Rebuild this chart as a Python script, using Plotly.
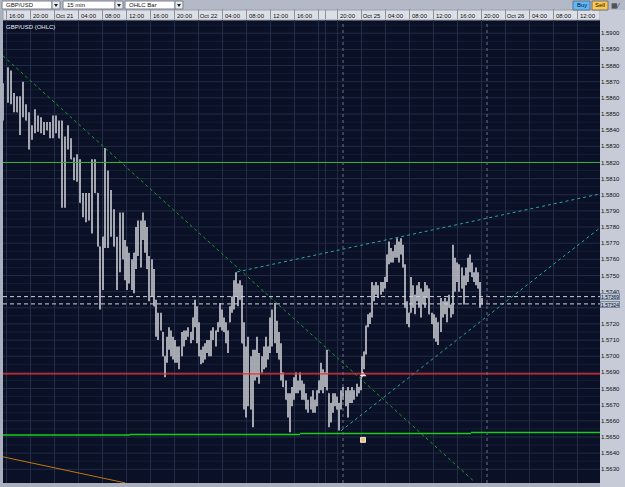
import plotly.graph_objects as go

# ---------------- data ----------------
# bar time: trading minutes since Oct 20 16:00 (weekend removed)
bar_time = [-30, 20, 50, 80, 110, 140, 170, 200, 230, 260, 290, 320, 350, 380, 410, 440, 470, 500, 530, 560,
            590, 620, 650, 680, 710, 740, 770, 800, 830, 860, 890, 920, 940, 970, 990, 1020, 1050, 1080, 1110, 1140,
            1170, 1190, 1210, 1230, 1260, 1280, 1300, 1320, 1350, 1370, 1390, 1410, 1430, 1460, 1480, 1500, 1520, 1550, 1570, 1590,
            1610, 1630, 1650, 1670, 1690, 1710, 1730, 1760, 1780, 1800, 1820, 1850, 1870, 1890, 1910, 1930, 1950, 1970, 1990, 2010,
            2030, 2050, 2070, 2100, 2120, 2140, 2160, 2180, 2200, 2220, 2240, 2260, 2280, 2300, 2320, 2340, 2360, 2380, 2400, 2420,
            2450, 2470, 2490, 2510, 2530, 2560, 2580, 2600, 2620, 2640, 2660, 2690, 2710, 2730, 2750, 2770, 2800, 2820, 2840, 2860,
            2880, 2900, 2920, 2940, 2960, 2980, 3000, 3020, 3050, 3070, 3090, 3110, 3130, 3150, 3170, 3190, 3210, 3230, 3250, 3270,
            3290, 3310, 3330, 3350, 3370, 3400, 3420, 3440, 3460, 3480, 3510, 3530, 3550, 3560, 3580, 3600, 3620, 3640, 3660, 3680,
            3700, 3720, 3750, 3770, 3790, 3810, 3830, 3850, 3870, 3890, 3910, 3930, 3950, 3970, 3990, 4010, 4030, 4050, 4070, 4090,
            4110, 4130, 4150, 4170, 4190, 4210, 4230, 4260, 4280, 4300, 4320, 4350, 4370, 4390, 4410, 4430, 4450, 4470, 4490, 4510,
            4530, 4560, 4580, 4600, 4620, 4640, 4660, 4680, 4700, 4720, 4740, 4760]

bar_high = [1.5869, 1.5879, 1.5877, 1.5863, 1.5861, 1.5861, 1.5870, 1.5856, 1.5851, 1.5843, 1.5853, 1.5849, 1.5848, 1.5845, 1.5845, 1.5845, 1.5849, 1.5849, 1.5846, 1.5846,
            1.5836, 1.5843, 1.5835, 1.5823, 1.5825, 1.5822, 1.5801, 1.5801, 1.5801, 1.5822, 1.5822, 1.5801, 1.5768, 1.5774, 1.5829, 1.5815, 1.5803, 1.5791, 1.5774, 1.5789,
            1.5789, 1.5772, 1.5768, 1.5764, 1.5760, 1.5764, 1.5780, 1.5784, 1.5784, 1.5789, 1.5784, 1.5780, 1.5762, 1.5760, 1.5754, 1.5735, 1.5727, 1.5727, 1.5715, 1.5700,
            1.5712, 1.5718, 1.5716, 1.5712, 1.5710, 1.5706, 1.5706, 1.5715, 1.5716, 1.5716, 1.5718, 1.5715, 1.5724, 1.5735, 1.5731, 1.5721, 1.5704, 1.5706, 1.5708, 1.5710,
            1.5710, 1.5716, 1.5718, 1.5716, 1.5721, 1.5733, 1.5729, 1.5724, 1.5721, 1.5716, 1.5731, 1.5737, 1.5747, 1.5752, 1.5745, 1.5747, 1.5744, 1.5721, 1.5706, 1.5712,
            1.5700, 1.5704, 1.5704, 1.5712, 1.5702, 1.5700, 1.5706, 1.5712, 1.5706, 1.5724, 1.5729, 1.5733, 1.5722, 1.5715, 1.5708, 1.5690, 1.5685, 1.5677, 1.5677, 1.5681,
            1.5687, 1.5690, 1.5685, 1.5690, 1.5685, 1.5683, 1.5677, 1.5673, 1.5675, 1.5679, 1.5673, 1.5679, 1.5685, 1.5696, 1.5692, 1.5690, 1.5704, 1.5677, 1.5671, 1.5677,
            1.5677, 1.5675, 1.5671, 1.5679, 1.5681, 1.5679, 1.5681, 1.5679, 1.5681, 1.5679, 1.5683, 1.5681, 1.5687, 1.5700, 1.5703, 1.5719, 1.5726, 1.5727, 1.5746, 1.5744,
            1.5746, 1.5744, 1.5746, 1.5746, 1.5749, 1.5763, 1.5771, 1.5767, 1.5765, 1.5769, 1.5773, 1.5771, 1.5773, 1.5769, 1.5757, 1.5734, 1.5727, 1.5749, 1.5744, 1.5738,
            1.5744, 1.5746, 1.5742, 1.5740, 1.5746, 1.5744, 1.5742, 1.5727, 1.5726, 1.5724, 1.5721, 1.5736, 1.5734, 1.5736, 1.5734, 1.5738, 1.5732, 1.5769, 1.5761, 1.5758,
            1.5757, 1.5755, 1.5750, 1.5755, 1.5761, 1.5763, 1.5758, 1.5752, 1.5755, 1.5752, 1.5746, 1.5736]

bar_low = [1.5846, 1.5857, 1.5856, 1.5851, 1.5851, 1.5837, 1.5848, 1.5846, 1.5828, 1.5834, 1.5838, 1.5839, 1.5838, 1.5837, 1.5840, 1.5835, 1.5835, 1.5838, 1.5835, 1.5792,
           1.5792, 1.5828, 1.5822, 1.5809, 1.5808, 1.5795, 1.5786, 1.5783, 1.5784, 1.5776, 1.5801, 1.5768, 1.5729, 1.5741, 1.5767, 1.5767, 1.5774, 1.5768, 1.5741, 1.5752,
           1.5760, 1.5747, 1.5741, 1.5745, 1.5741, 1.5739, 1.5754, 1.5762, 1.5755, 1.5772, 1.5764, 1.5754, 1.5734, 1.5737, 1.5731, 1.5712, 1.5710, 1.5716, 1.5700, 1.5687,
           1.5696, 1.5704, 1.5700, 1.5698, 1.5696, 1.5696, 1.5692, 1.5700, 1.5706, 1.5710, 1.5712, 1.5708, 1.5710, 1.5718, 1.5708, 1.5700, 1.5695, 1.5696, 1.5698, 1.5702,
           1.5700, 1.5700, 1.5710, 1.5706, 1.5715, 1.5718, 1.5716, 1.5715, 1.5708, 1.5702, 1.5721, 1.5727, 1.5729, 1.5737, 1.5731, 1.5735, 1.5708, 1.5667, 1.5662, 1.5669,
           1.5667, 1.5656, 1.5685, 1.5687, 1.5683, 1.5690, 1.5692, 1.5693, 1.5698, 1.5702, 1.5706, 1.5708, 1.5702, 1.5698, 1.5685, 1.5681, 1.5673, 1.5662, 1.5653, 1.5669,
           1.5673, 1.5677, 1.5677, 1.5679, 1.5673, 1.5673, 1.5667, 1.5665, 1.5667, 1.5665, 1.5665, 1.5669, 1.5677, 1.5679, 1.5677, 1.5681, 1.5679, 1.5656, 1.5659, 1.5665,
           1.5669, 1.5667, 1.5654, 1.5667, 1.5673, 1.5669, 1.5662, 1.5671, 1.5671, 1.5673, 1.5675, 1.5677, 1.5679, 1.5687, 1.5692, 1.5701, 1.5718, 1.5720, 1.5724, 1.5734,
           1.5738, 1.5736, 1.5738, 1.5740, 1.5742, 1.5746, 1.5757, 1.5758, 1.5758, 1.5761, 1.5761, 1.5758, 1.5763, 1.5755, 1.5730, 1.5720, 1.5718, 1.5727, 1.5730, 1.5726,
           1.5734, 1.5730, 1.5724, 1.5732, 1.5730, 1.5736, 1.5726, 1.5720, 1.5711, 1.5709, 1.5707, 1.5715, 1.5724, 1.5726, 1.5721, 1.5730, 1.5724, 1.5726, 1.5740, 1.5746,
           1.5740, 1.5742, 1.5732, 1.5744, 1.5746, 1.5752, 1.5749, 1.5746, 1.5744, 1.5742, 1.5730, 1.5732]

bar_open = [1.5850, 1.5868, 1.5866, 1.5857, 1.5856, 1.5851, 1.5859, 1.5851, 1.5846, 1.5838, 1.5841, 1.5844, 1.5843, 1.5841, 1.5842, 1.5840, 1.5842, 1.5843, 1.5840, 1.5835,
            1.5814, 1.5835, 1.5829, 1.5822, 1.5816, 1.5809, 1.5795, 1.5792, 1.5792, 1.5799, 1.5811, 1.5801, 1.5768, 1.5757, 1.5774, 1.5791, 1.5788, 1.5779, 1.5768, 1.5770,
            1.5774, 1.5760, 1.5754, 1.5754, 1.5750, 1.5751, 1.5764, 1.5773, 1.5769, 1.5780, 1.5774, 1.5767, 1.5754, 1.5748, 1.5742, 1.5731, 1.5718, 1.5721, 1.5715, 1.5700,
            1.5700, 1.5711, 1.5708, 1.5705, 1.5703, 1.5701, 1.5699, 1.5706, 1.5711, 1.5713, 1.5715, 1.5712, 1.5715, 1.5724, 1.5719, 1.5710, 1.5700, 1.5701, 1.5703, 1.5706,
            1.5705, 1.5708, 1.5714, 1.5711, 1.5716, 1.5721, 1.5722, 1.5719, 1.5715, 1.5709, 1.5721, 1.5731, 1.5737, 1.5744, 1.5738, 1.5741, 1.5735, 1.5708, 1.5684, 1.5690,
            1.5683, 1.5680, 1.5694, 1.5699, 1.5692, 1.5695, 1.5699, 1.5702, 1.5702, 1.5706, 1.5717, 1.5720, 1.5712, 1.5706, 1.5698, 1.5686, 1.5681, 1.5673, 1.5665, 1.5675,
            1.5680, 1.5683, 1.5681, 1.5684, 1.5679, 1.5678, 1.5673, 1.5669, 1.5671, 1.5672, 1.5669, 1.5673, 1.5679, 1.5685, 1.5684, 1.5685, 1.5690, 1.5677, 1.5665, 1.5671,
            1.5673, 1.5671, 1.5667, 1.5671, 1.5677, 1.5674, 1.5671, 1.5675, 1.5676, 1.5676, 1.5679, 1.5679, 1.5681, 1.5687, 1.5698, 1.5703, 1.5719, 1.5723, 1.5727, 1.5739,
            1.5742, 1.5740, 1.5742, 1.5743, 1.5745, 1.5749, 1.5763, 1.5762, 1.5761, 1.5765, 1.5767, 1.5764, 1.5768, 1.5763, 1.5755, 1.5730, 1.5722, 1.5727, 1.5737, 1.5732,
            1.5738, 1.5738, 1.5733, 1.5736, 1.5738, 1.5740, 1.5736, 1.5726, 1.5720, 1.5716, 1.5714, 1.5721, 1.5729, 1.5731, 1.5727, 1.5734, 1.5730, 1.5732, 1.5750, 1.5752,
            1.5748, 1.5748, 1.5742, 1.5749, 1.5753, 1.5757, 1.5753, 1.5749, 1.5749, 1.5747, 1.5742, 1.5734]

bar_close = [1.5868, 1.5866, 1.5857, 1.5856, 1.5851, 1.5859, 1.5851, 1.5846, 1.5838, 1.5841, 1.5844, 1.5843, 1.5841, 1.5842, 1.5840, 1.5842, 1.5843, 1.5840, 1.5835, 1.5814,
             1.5835, 1.5829, 1.5822, 1.5816, 1.5809, 1.5795, 1.5792, 1.5792, 1.5799, 1.5811, 1.5801, 1.5768, 1.5757, 1.5774, 1.5791, 1.5788, 1.5779, 1.5768, 1.5770, 1.5774,
             1.5760, 1.5754, 1.5754, 1.5750, 1.5751, 1.5764, 1.5773, 1.5769, 1.5780, 1.5774, 1.5767, 1.5754, 1.5748, 1.5742, 1.5731, 1.5718, 1.5721, 1.5716, 1.5700, 1.5700,
             1.5711, 1.5708, 1.5705, 1.5703, 1.5701, 1.5699, 1.5706, 1.5711, 1.5713, 1.5715, 1.5712, 1.5715, 1.5724, 1.5719, 1.5710, 1.5700, 1.5701, 1.5703, 1.5706, 1.5705,
             1.5708, 1.5714, 1.5711, 1.5716, 1.5721, 1.5722, 1.5719, 1.5715, 1.5709, 1.5716, 1.5731, 1.5737, 1.5744, 1.5738, 1.5741, 1.5735, 1.5708, 1.5684, 1.5690, 1.5683,
             1.5680, 1.5694, 1.5699, 1.5692, 1.5695, 1.5699, 1.5702, 1.5702, 1.5706, 1.5717, 1.5720, 1.5712, 1.5706, 1.5698, 1.5686, 1.5681, 1.5673, 1.5665, 1.5675, 1.5680,
             1.5683, 1.5681, 1.5684, 1.5679, 1.5678, 1.5673, 1.5669, 1.5671, 1.5672, 1.5669, 1.5673, 1.5679, 1.5685, 1.5684, 1.5685, 1.5690, 1.5679, 1.5665, 1.5671, 1.5673,
             1.5671, 1.5667, 1.5671, 1.5677, 1.5674, 1.5671, 1.5675, 1.5676, 1.5676, 1.5679, 1.5679, 1.5681, 1.5687, 1.5698, 1.5703, 1.5719, 1.5723, 1.5727, 1.5739, 1.5742,
             1.5740, 1.5742, 1.5743, 1.5745, 1.5749, 1.5763, 1.5762, 1.5761, 1.5765, 1.5767, 1.5764, 1.5768, 1.5763, 1.5755, 1.5730, 1.5722, 1.5727, 1.5737, 1.5732, 1.5738,
             1.5738, 1.5733, 1.5736, 1.5738, 1.5740, 1.5736, 1.5726, 1.5720, 1.5716, 1.5714, 1.5721, 1.5729, 1.5731, 1.5727, 1.5734, 1.5730, 1.5732, 1.5750, 1.5752, 1.5748,
             1.5748, 1.5742, 1.5749, 1.5753, 1.5757, 1.5753, 1.5749, 1.5749, 1.5747, 1.5742, 1.5734, 1.5732]

# time-axis cells (trading minutes) and their labels
cell_start = [0, 240, 480, 720, 960, 1200, 1440, 1680, 1920, 2160, 2400, 2640, 2880, 3120, 3190,
              3310, 3550, 3790, 4030, 4270, 4510, 4750, 4990, 5230, 5470, 5710]
cell_label = ["16:00", "20:00", "Oct 21", "04:00", "08:00", "12:00", "16:00", "20:00", "Oct 22", "04:00",
              "08:00", "12:00", "16:00", "", "", "20:00", "Oct 25", "04:00", "08:00", "12:00", "16:00",
              "20:00", "Oct 26", "04:00", "08:00", "12:00"]
session_marks = [3370, 4810]

# price axis labels (1.5730 sits behind the current-price boxes)
price_ticks = [1.5630, 1.5640, 1.5650, 1.5660, 1.5670, 1.5680, 1.5690, 1.5700, 1.5710, 1.5720,
               1.5740, 1.5750, 1.5760, 1.5770, 1.5780, 1.5790, 1.5800, 1.5810, 1.5820,
               1.5830, 1.5840, 1.5850, 1.5860, 1.5870, 1.5880, 1.5890, 1.5900]
price_grid = [1.5630 + 0.0010 * i for i in range(28)]

# price levels and drawn objects
level_green = 1.5820
level_red = 1.56891
bid_price = 1.57324
ask_price = 1.57369
support_segments = [(-30, 1240, 1.56513), (1240, 2940, 1.56516), (2940, 4650, 1.56522), (4650, 5940, 1.56528)]
down_trend = [(-30, 1.5886), (4690, 1.5622)]
upper_channel = [(2310, 1.57522), (5940, 1.58005)]
lower_channel = [(3350, 1.56538), (5940, 1.57795)]
orange_line = [(-30, 1.56377), (1190, 1.56216)]
arrow_mark = (3570, 1.56886)
square_mark = (3570, 1.56482)

X_RANGE = [-30, 5940]
Y_RANGE = [1.56215, 1.59082]

# ---------------- figure ----------------
W, H = 625, 487
ML, MR, MT, MB = 3, 25, 20, 4
PW, PH = W - ML - MR, H - MT - MB


def px(x):
    return (x - ML) / PW


def py(y):
    return (H - MB - y) / PH


BG = "#0a1026"
GRID = "#232c46"
FONT = "Liberation Sans, Arial, sans-serif"

fig = go.Figure()

fig.add_trace(go.Ohlc(
    x=bar_time, open=bar_open, high=bar_high, low=bar_low, close=bar_close,
    increasing=dict(line=dict(color="#d6d7dc", width=1.5)),
    decreasing=dict(line=dict(color="#d6d7dc", width=1.5)),
    tickwidth=0.3, hoverinfo="skip", showlegend=False,
))

# trend lines
for (a, b), col in [(down_trend, "#1f9a30"), (upper_channel, "#2aa4aa"), (lower_channel, "#2aa4aa")]:
    fig.add_trace(go.Scatter(x=[a[0], b[0]], y=[a[1], b[1]], mode="lines",
                             line=dict(color=col, width=1, dash="dot"), hoverinfo="skip", showlegend=False))
fig.add_trace(go.Scatter(x=[orange_line[0][0], orange_line[1][0]], y=[orange_line[0][1], orange_line[1][1]],
                         mode="lines", line=dict(color="#c07810", width=1), hoverinfo="skip", showlegend=False))

# markers
fig.add_trace(go.Scatter(x=[arrow_mark[0]], y=[arrow_mark[1]], mode="markers",
                         marker=dict(symbol="triangle-up", size=6, color="#d8f4ff"), hoverinfo="skip", showlegend=False))
fig.add_trace(go.Scatter(x=[square_mark[0]], y=[square_mark[1]], mode="markers",
                         marker=dict(symbol="square", size=5, color="#f4c27a", line=dict(color="#ffffff", width=0.8)),
                         hoverinfo="skip", showlegend=False))

shapes = []
# horizontal levels
shapes.append(dict(type="line", xref="paper", yref="y", x0=0, x1=1, y0=level_green, y1=level_green,
                   line=dict(color="#3cb43c", width=1)))
shapes.append(dict(type="line", xref="paper", yref="y", x0=0, x1=1, y0=level_red, y1=level_red,
                   line=dict(color="#ff2a2a", width=1.2)))
for p in (ask_price, bid_price):
    shapes.append(dict(type="line", xref="paper", yref="y", x0=0, x1=1, y0=p, y1=p,
                       line=dict(color="#d0d4e0", width=1, dash="4px,3px")))
for x0, x1, p in support_segments:
    shapes.append(dict(type="line", xref="x", yref="y", x0=x0, x1=x1, y0=p, y1=p,
                       line=dict(color="#18cc18", width=1.5)))
for t in session_marks:
    shapes.append(dict(type="line", xref="x", yref="paper", x0=t, x1=t, y0=0, y1=1,
                       line=dict(color="#6c7488", width=1, dash="3px,3px")))

# ---- chrome: toolbar, header, axis panel ----
shapes.append(dict(type="rect", xref="paper", yref="paper", x0=px(0), x1=px(W), y0=py(10), y1=py(0),
                   fillcolor="#b3b9c6", line=dict(width=0), layer="below"))
shapes.append(dict(type="rect", xref="paper", yref="paper", x0=px(ML), x1=px(W - MR), y0=py(MT), y1=py(10),
                   fillcolor="#dcdfe6", line=dict(color="#9aa0ac", width=1), layer="below"))
shapes.append(dict(type="rect", xref="paper", yref="paper", x0=1, x1=px(W), y0=py(H), y1=py(10),
                   fillcolor="#c6cbd7", line=dict(width=0), layer="below"))

annotations = []


def dropdown(x0, x1, label):
    shapes.append(dict(type="rect", xref="paper", yref="paper", x0=px(x0), x1=px(x1), y0=py(9), y1=py(1),
                       fillcolor="#ffffff", line=dict(color="#7a808c", width=1)))
    shapes.append(dict(type="rect", xref="paper", yref="paper", x0=px(x1), x1=px(x1 + 8), y0=py(9), y1=py(1),
                       fillcolor="#e8eaee", line=dict(color="#7a808c", width=1)))
    shapes.append(dict(type="path", xref="paper", yref="paper",
                       path=f"M {px(x1 + 2)} {py(4)} L {px(x1 + 6)} {py(4)} L {px(x1 + 4)} {py(7)} Z",
                       fillcolor="#202020", line=dict(width=0)))
    annotations.append(dict(xref="paper", yref="paper", x=px(x0 + 2), y=py(5), text=label, showarrow=False,
                            xanchor="left", yanchor="middle", font=dict(size=6, color="#101010", family=FONT)))


dropdown(2, 52, "GBP/USD")
dropdown(63, 115, "15 min")
dropdown(125, 175, "OHLC Bar")

for x0, x1, col, lab in [(573, 590, "#5cb8ff", "Buy"), (592, 608, "#ffc84a", "Sell")]:
    shapes.append(dict(type="rect", xref="paper", yref="paper", x0=px(x0), x1=px(x1), y0=py(10), y1=py(1),
                       fillcolor=col, line=dict(color="#6a7080", width=1)))
    annotations.append(dict(xref="paper", yref="paper", x=px((x0 + x1) / 2), y=py(5.5), text=lab, showarrow=False,
                            xanchor="center", yanchor="middle", font=dict(size=6, color="#101010", family=FONT)))
annotations.append(dict(xref="paper", yref="paper", x=px(616), y=py(5.5), text="&#9638;&#8260;", showarrow=False,
                        xanchor="center", yanchor="middle", font=dict(size=7, color="#303030", family=FONT)))

annotations.append(dict(xref="paper", yref="paper", x=px(4), y=py(22), text="GBP/USD (OHLC)", showarrow=False,
                        xanchor="left", yanchor="top", font=dict(size=6, color="#e8ecf4", family=FONT)))

# current price boxes on the axis
for p, txt, shift in [(ask_price, f"{ask_price:.5f}", 0), (bid_price, f"{bid_price:.5f}", -1)]:
    annotations.append(dict(xref="paper", yref="y", x=1, y=p, text=txt, showarrow=False, xanchor="left",
                            yanchor="middle", yshift=shift, bgcolor="#b8c4d8", bordercolor="#7c8aa4",
                            borderwidth=1, borderpad=0, height=5,
                            font=dict(size=5, color="#101010", family=FONT)))

label_offset = 105  # label text sits just right of each cell boundary
fig.update_layout(
    width=W, height=H, margin=dict(l=ML, r=MR, t=MT, b=MB, pad=0),
    paper_bgcolor="#a9afbc", plot_bgcolor=BG,
    font=dict(family=FONT, size=6, color="#111111"),
    shapes=shapes, annotations=annotations, showlegend=False,
    xaxis=dict(range=X_RANGE, side="top", rangeslider=dict(visible=False), fixedrange=True,
               tickmode="array", tickvals=[c + label_offset for c in cell_start], ticktext=cell_label,
               ticks="", showgrid=False, zeroline=False, showline=False,
               tickfont=dict(size=6, color="#101010", family=FONT),
               minor=dict(tickmode="array", tickvals=cell_start, ticks="outside", ticklen=10,
                          tickcolor="#8c929e", tickwidth=1, showgrid=True, gridcolor=GRID, gridwidth=1)),
    yaxis=dict(range=Y_RANGE, side="right", fixedrange=True, tickmode="array", tickvals=price_ticks,
               ticktext=[f"{v:.4f}" for v in price_ticks],
               ticks="", showgrid=False, zeroline=False, showline=False,
               tickfont=dict(size=6, color="#101010", family=FONT)),
)

# price grid (full set, incl. the level hidden behind the price boxes) and half-step minor grid
for i, v in enumerate(price_grid):
    shapes.append(dict(type="line", xref="paper", yref="y", x0=0, x1=1, y0=v, y1=v,
                       line=dict(color=GRID, width=1), layer="below"))
    shapes.append(dict(type="line", xref="paper", yref="y", x0=0, x1=1, y0=v + 0.0005, y1=v + 0.0005,
                       line=dict(color="#151c34", width=1), layer="below"))
fig.update_layout(shapes=shapes)

fig.write_html("out.html")
